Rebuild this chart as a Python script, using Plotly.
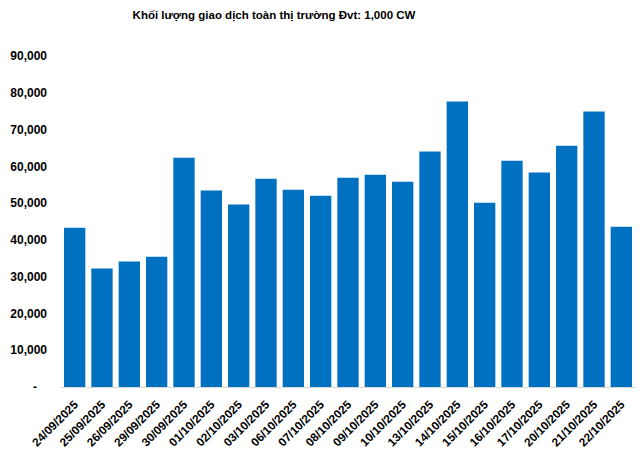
import plotly.graph_objects as go

dates = ["24/09/2025", "25/09/2025", "26/09/2025", "29/09/2025", "30/09/2025",
         "01/10/2025", "02/10/2025", "03/10/2025", "06/10/2025", "07/10/2025",
         "08/10/2025", "09/10/2025", "10/10/2025", "13/10/2025", "14/10/2025",
         "15/10/2025", "16/10/2025", "17/10/2025", "20/10/2025", "21/10/2025",
         "22/10/2025"]
volumes = [43300, 32200, 34100, 35400, 62300,
           53400, 49600, 56600, 53600, 52000,
           56900, 57700, 55800, 64000, 77600,
           50100, 61500, 58300, 65600, 74900,
           43600]
y_tickvals = [0, 10000, 20000, 30000, 40000, 50000, 60000, 70000, 80000, 90000]
y_ticktext = ["-\u00a0\u00a0\u00a0", "10,000", "20,000", "30,000", "40,000", "50,000",
              "60,000", "70,000", "80,000", "90,000"]

fig = go.Figure(go.Bar(x=dates, y=volumes, marker_color="#0070C0",
                       marker_line_width=0))

fig.update_layout(
    width=641, height=451,
    margin=dict(l=61, r=6, t=56, b=64),
    paper_bgcolor="white", plot_bgcolor="white",
    bargap=0.22,
    showlegend=False,
    title=dict(text="<b>Khối lượng giao dịch toàn thị trường Đvt: 1,000 CW</b>",
               x=274 / 641, xanchor="center", y=1 - 14.5 / 451, yanchor="middle",
               font=dict(family="Liberation Sans, Arial", size=11.5, color="black")),
    font=dict(family="Liberation Sans, Arial", color="black"),
)
fig.update_xaxes(tickangle=-45, tickfont=dict(size=11.8, weight="bold"),
                 showline=True, linecolor="#D9D9D9", linewidth=1,
                 ticks="", showgrid=False, type="category", automargin=False,
                 ticklabelstandoff=5)
fig.update_yaxes(range=[0, 90000], tickvals=y_tickvals, ticktext=y_ticktext,
                 tickfont=dict(size=12, weight="bold"), showgrid=False,
                 zeroline=False, showline=False, ticks="",
                 ticklabelstandoff=13, automargin=False)

fig.write_html("out.html", post_script="document.body.style.margin='0';",
               config={"displayModeBar": False})
